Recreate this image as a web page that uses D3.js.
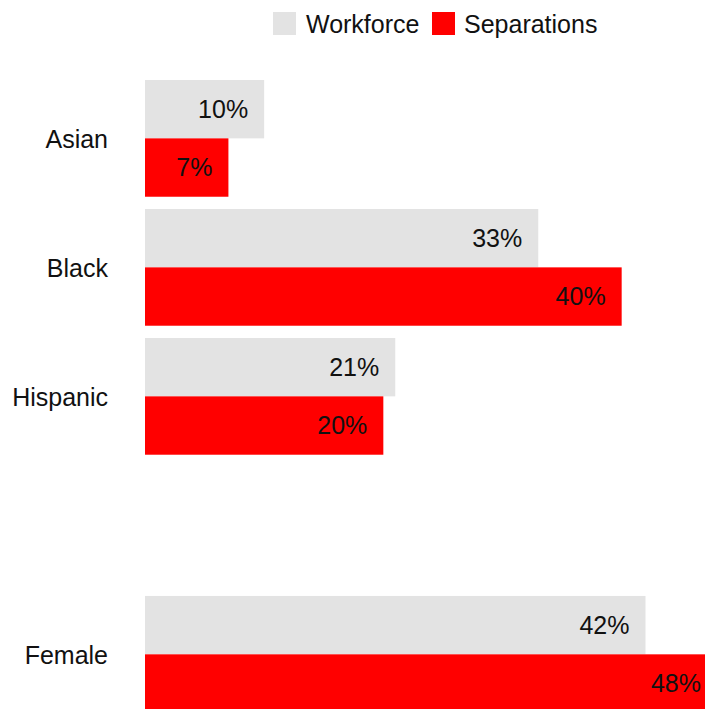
<!DOCTYPE html>
<html>
<head>
<meta charset="utf-8">
<script src="https://cdn.jsdelivr.net/npm/d3@7"></script>
<style>
  html, body { margin: 0; padding: 0; background: #fff; }
  svg { display: block; }
  text { font-family: "Liberation Sans", Arial, sans-serif; fill: #111; }
</style>
</head>
<body>
<svg id="chart" width="705" height="709"></svg>
<script>
// Share of workforce vs. share of separations by group
const categories = ["Asian", "Black", "Hispanic", "", "Female"];
const seriesNames = ["Workforce", "Separations"];
const workforce = [10, 33, 21, null, 42];
const separations = [7, 40, 20, null, 48];
const seriesColors = ["#e3e3e3", "#ff0000"];

const width = 705, height = 709;
const svg = d3.select("#chart");

const rows = categories.map((c, i) => ({
  category: c,
  values: [
    { series: seriesNames[0], value: workforce[i] },
    { series: seriesNames[1], value: separations[i] }
  ]
}));

const x = d3.scaleLinear().domain([0, 48]).range([145, 717]);

const y = d3.scaleBand()
  .domain(categories)
  .range([80, 712.7])
  .paddingInner(0.095)
  .paddingOuter(0);

const ySub = d3.scaleBand()
  .domain(seriesNames)
  .range([0, y.bandwidth()])
  .padding(0);

const color = d3.scaleOrdinal().domain(seriesNames).range(seriesColors);

const fontSize = 25;

// Category labels
svg.append("g")
  .selectAll("text")
  .data(categories.filter(c => c !== ""))
  .join("text")
  .attr("x", 108)
  .attr("y", d => y(d) + y.bandwidth() / 2 + 1)
  .attr("dy", "0.35em")
  .attr("text-anchor", "end")
  .style("font-size", fontSize + "px")
  .text(d => d);

// Bars and value labels
const groups = svg.append("g")
  .selectAll("g")
  .data(rows.filter(r => r.category !== ""))
  .join("g")
  .attr("transform", d => `translate(0,${y(d.category)})`);

groups.selectAll("rect")
  .data(d => d.values)
  .join("rect")
  .attr("x", x(0))
  .attr("y", d => ySub(d.series))
  .attr("width", d => x(d.value) - x(0))
  .attr("height", ySub.bandwidth())
  .attr("fill", d => color(d.series));

groups.selectAll("text")
  .data(d => d.values)
  .join("text")
  .attr("x", d => x(d.value) - 16)
  .attr("y", d => ySub(d.series) + ySub.bandwidth() / 2)
  .attr("dy", "0.35em")
  .attr("text-anchor", "end")
  .style("font-size", fontSize + "px")
  .text(d => d.value + "%");

// Legend
const legendItems = [
  { name: seriesNames[0], x: 273, tx: 306 },
  { name: seriesNames[1], x: 432, tx: 464 }
];
const legend = svg.append("g");
legend.selectAll("rect")
  .data(legendItems)
  .join("rect")
  .attr("x", d => d.x)
  .attr("y", 12)
  .attr("width", 23)
  .attr("height", 23)
  .attr("fill", d => color(d.name));
legend.selectAll("text")
  .data(legendItems)
  .join("text")
  .attr("x", d => d.tx)
  .attr("y", 24)
  .attr("dy", "0.35em")
  .style("font-size", fontSize + "px")
  .text(d => d.name);
</script>
</body>
</html>
